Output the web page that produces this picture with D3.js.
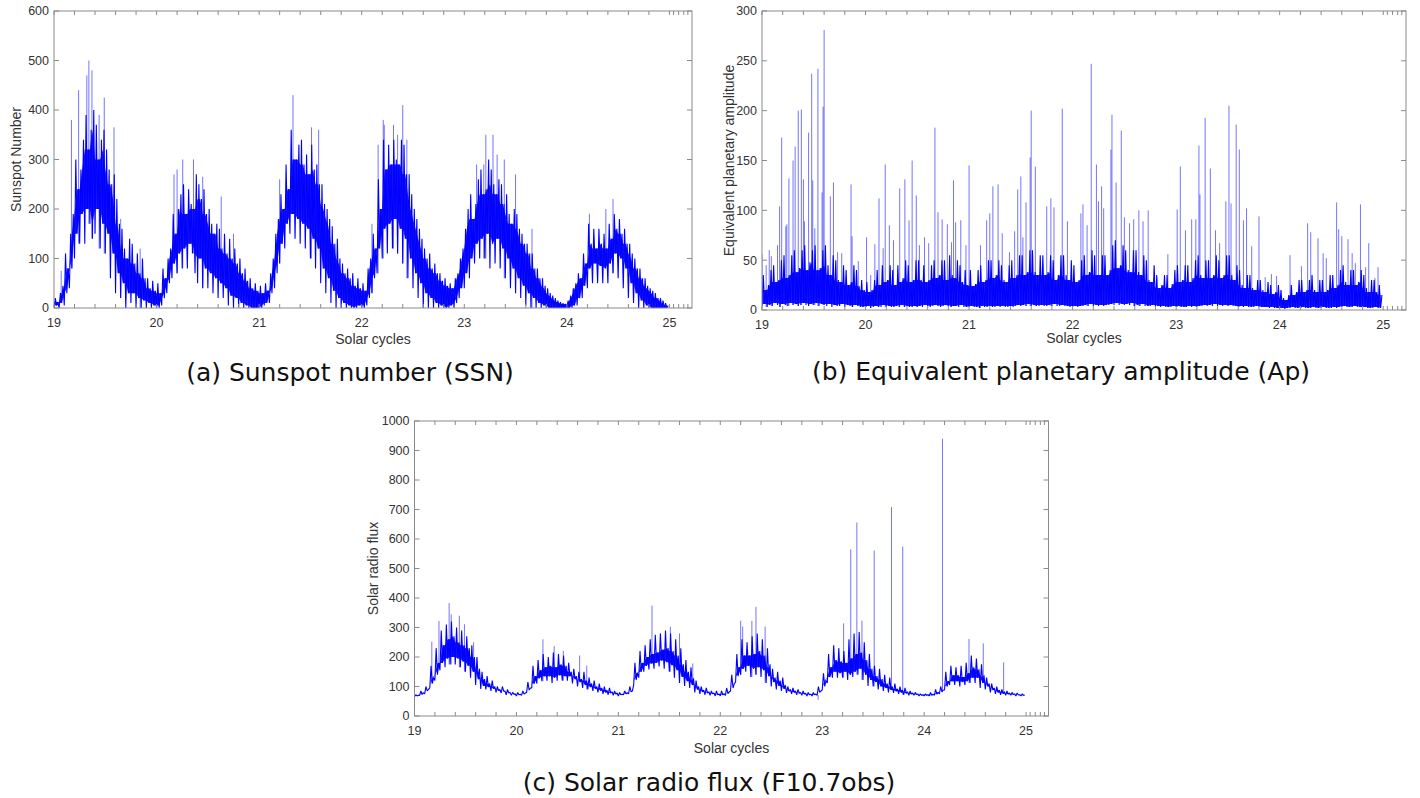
<!DOCTYPE html>
<html>
<head>
<meta charset="utf-8">
<script src="https://cdn.jsdelivr.net/npm/d3@7"></script>
<style>
  html, body { margin: 0; padding: 0; background: #fff; }
  svg { display: block; }
  .tick-label { font-family: "Liberation Sans", Arial, sans-serif; font-size: 12.5px; fill: #333; }
  .axis-title { font-family: "Liberation Sans", Arial, sans-serif; font-size: 14px; fill: #333; }
  .caption { font-family: "DejaVu Sans", sans-serif; font-size: 25px; fill: #111; }
</style>
</head>
<body>
<svg id="chart" width="1420" height="798"></svg>
<script>
// Daily series summarised in 0.025-cycle bins starting at cycle 19.000:
// per bin, the lowest and highest daily value; tall isolated days listed separately.
const binStart = 19;
const binStep = 0.025;

// (a) Sunspot number
const ssnLow = [
  0, 5, 0, 10, 5, 30, 40, 80, 100, 150, 130, 190, 130, 200, 170, 140, 150, 200, 120, 170,
  110, 150, 60, 110, 30, 70, 20, 50, 0, 30, 10, 30, 0, 20, 0, 15, 0, 10, 0, 5,
  0, 0, 5, 20, 30, 50, 60, 90, 70, 110, 80, 120, 80, 130, 110, 70, 50, 100, 40, 80,
  40, 70, 30, 60, 20, 50, 20, 40, 5, 25, 0, 20, 0, 10, 0, 5, 0, 0, 0, 0,
  0, 0, 5, 10, 10, 30, 40, 70, 90, 130, 120, 170, 150, 190, 140, 180, 130, 170, 120, 160,
  100, 140, 80, 120, 50, 80, 30, 60, 10, 35, 0, 20, 0, 10, 0, 5, 0, 0, 0, 5,
  0, 0, 5, 20, 30, 60, 70, 120, 100, 160, 110, 170, 120, 180, 110, 160, 90, 140, 60, 100,
  40, 70, 20, 50, 0, 30, 0, 20, 0, 10, 0, 5, 0, 0, 0, 5, 0, 10, 20, 40,
  40, 70, 60, 100, 90, 130, 100, 140, 100, 150, 80, 130, 90, 140, 80, 120, 60, 100, 40, 80,
  30, 60, 20, 45, 5, 30, 0, 20, 0, 10, 0, 5, 0, 0, 0, 0, 0, 0, 0, 0,
  0, 0, 0, 5, 5, 20, 20, 45, 40, 80, 50, 90, 50, 85, 50, 80, 50, 90, 70, 110,
  60, 100, 40, 80, 20, 50, 10, 30, 0, 15, 0, 5, 0, 0, 0, 0, 0, 0, 0, 0
];
const ssnHigh = [
  20, 12, 30, 45, 110, 80, 150, 190, 300, 240, 280, 340, 390, 320, 360, 400, 370, 300, 340, 360,
  320, 280, 250, 270, 220, 170, 160, 120, 100, 140, 130, 90, 110, 70, 100, 60, 60, 40, 55, 35,
  50, 30, 80, 60, 100, 120, 190, 150, 200, 230, 250, 190, 240, 210, 200, 270, 250, 220, 240, 190,
  200, 170, 150, 170, 160, 120, 150, 110, 140, 100, 120, 90, 100, 70, 80, 55, 60, 40, 50, 35,
  45, 30, 50, 35, 70, 100, 150, 180, 230, 200, 290, 240, 360, 300, 300, 330, 340, 290, 310, 270,
  330, 280, 290, 250, 250, 210, 200, 180, 165, 130, 140, 100, 90, 70, 80, 60, 70, 45, 60, 40,
  50, 35, 80, 100, 150, 120, 260, 200, 340, 280, 330, 290, 340, 300, 290, 340, 330, 270, 270, 230,
  200, 180, 160, 140, 120, 100, 110, 80, 90, 70, 70, 55, 60, 45, 50, 40, 60, 70, 100, 120,
  160, 200, 230, 180, 210, 260, 280, 230, 240, 300, 280, 250, 230, 260, 250, 210, 230, 190, 170, 200,
  190, 160, 150, 130, 130, 110, 110, 80, 80, 60, 60, 45, 40, 30, 25, 20, 15, 12, 10, 8,
  15, 25, 40, 50, 70, 60, 110, 90, 170, 130, 160, 120, 160, 130, 150, 120, 170, 140, 190, 160,
  180, 150, 160, 130, 130, 110, 100, 80, 80, 60, 60, 45, 40, 35, 30, 20, 20, 15, 10, 5
];
const ssnSpikes = [
  [19.07, 75], [19.17, 380], [19.24, 440], [19.32, 470], [19.34, 500], [19.37, 480],
  [19.44, 390], [19.49, 425], [19.585, 365], [19.65, 180], [19.84, 120],
  [20.17, 270], [20.20, 280], [20.255, 300], [20.36, 300], [20.45, 265], [20.63, 225], [20.75, 150],
  [21.20, 260], [21.33, 430], [21.51, 365], [21.58, 360],
  [22.10, 170], [22.16, 330], [22.21, 380], [22.22, 370], [22.31, 370], [22.35, 350],
  [22.40, 410], [22.44, 340],
  [23.12, 290], [23.19, 290], [23.21, 350], [23.28, 350], [23.32, 310], [23.39, 300],
  [23.50, 270], [23.66, 160],
  [24.22, 190], [24.38, 200], [24.45, 220]
];

// (b) Equivalent planetary amplitude
const apLow = [
  4, 6, 3, 5, 4, 7, 5, 3, 6, 5, 4, 7, 5, 6, 4, 5, 7, 5, 4, 6,
  5, 7, 4, 6, 5, 4, 6, 3, 5, 4, 4, 6, 3, 5, 4, 3, 5, 4, 3, 3,
  3, 4, 2, 3, 4, 3, 3, 5, 3, 4, 3, 3, 4, 3, 5, 3, 4, 3, 3, 4,
  3, 4, 3, 5, 4, 3, 4, 5, 4, 3, 4, 5, 4, 3, 4, 4, 3, 5, 3, 3,
  3, 4, 3, 3, 2, 4, 3, 3, 4, 3, 3, 4, 3, 4, 3, 3, 4, 3, 4, 5,
  4, 5, 4, 6, 4, 5, 4, 4, 5, 4, 4, 5, 4, 6, 4, 4, 5, 4, 4, 3,
  3, 4, 3, 4, 4, 5, 4, 6, 4, 5, 4, 5, 4, 5, 5, 6, 5, 7, 5, 6,
  5, 6, 5, 7, 4, 5, 4, 6, 4, 4, 4, 5, 3, 4, 3, 4, 3, 3, 3, 4,
  3, 4, 3, 3, 3, 4, 3, 4, 3, 4, 4, 5, 4, 5, 4, 6, 4, 5, 4, 5,
  4, 5, 4, 4, 3, 4, 3, 4, 3, 3, 3, 4, 3, 3, 3, 3, 2, 3, 2, 2,
  2, 2, 1, 2, 2, 3, 2, 2, 2, 3, 2, 2, 2, 3, 2, 2, 2, 3, 2, 2,
  2, 3, 2, 3, 3, 4, 3, 3, 3, 4, 3, 3, 2, 3, 2, 2, 2, 3, 2, 2
];
const apHigh = [
  35, 20, 25, 40, 45, 28, 30, 50, 55, 32, 35, 55, 60, 38, 42, 60, 65, 40, 48, 60,
  65, 40, 42, 60, 65, 45, 35, 55, 50, 30, 28, 45, 40, 25, 28, 45, 40, 24, 30, 20,
  28, 18, 20, 30, 40, 25, 45, 28, 30, 45, 40, 25, 45, 28, 32, 50, 45, 28, 30, 50,
  50, 30, 45, 28, 30, 45, 50, 32, 35, 50, 50, 30, 55, 35, 32, 50, 45, 28, 40, 25,
  40, 24, 26, 40, 45, 28, 30, 50, 50, 32, 35, 50, 45, 30, 28, 45, 50, 32, 35, 55,
  55, 35, 38, 60, 60, 38, 35, 55, 55, 35, 38, 55, 50, 30, 35, 55, 55, 35, 30, 50,
  45, 28, 30, 50, 55, 35, 38, 60, 55, 35, 35, 55, 55, 35, 40, 65, 70, 42, 45, 65,
  60, 40, 38, 60, 60, 38, 35, 55, 50, 30, 28, 45, 35, 22, 25, 35, 35, 22, 26, 40,
  45, 28, 30, 45, 45, 28, 32, 50, 55, 35, 32, 50, 50, 32, 35, 55, 50, 32, 35, 55,
  55, 35, 30, 45, 40, 25, 22, 35, 35, 22, 20, 30, 30, 20, 18, 28, 25, 16, 18, 25,
  20, 12, 10, 15, 25, 15, 18, 30, 30, 18, 20, 30, 35, 20, 18, 30, 30, 18, 20, 35,
  35, 22, 25, 40, 45, 28, 25, 40, 40, 25, 28, 40, 35, 22, 18, 30, 30, 18, 25, 15
];
const apSpikes = [
  [19.00, 56], [19.04, 45], [19.07, 60], [19.09, 54], [19.15, 65], [19.17, 104], [19.19, 173],
  [19.23, 84], [19.24, 86], [19.26, 132], [19.30, 150], [19.32, 164], [19.35, 200], [19.38, 201],
  [19.40, 131], [19.41, 89], [19.45, 178], [19.48, 237], [19.49, 130], [19.51, 82], [19.54, 242],
  [19.58, 118], [19.59, 204], [19.60, 281], [19.66, 114], [19.69, 128], [19.73, 58], [19.77, 57],
  [19.86, 126], [19.87, 74], [19.93, 49],
  [20.01, 73], [20.05, 35], [20.09, 66], [20.13, 112], [20.17, 62], [20.19, 146], [20.23, 85],
  [20.27, 70], [20.33, 122], [20.38, 131], [20.42, 90], [20.45, 150], [20.49, 115], [20.52, 65],
  [20.57, 73], [20.61, 67], [20.67, 183], [20.70, 98], [20.74, 91], [20.79, 86], [20.83, 68],
  [20.85, 130], [20.87, 88], [20.92, 90], [20.97, 65],
  [21.00, 145], [21.11, 65], [21.17, 90], [21.20, 97], [21.23, 124], [21.28, 126], [21.32, 77],
  [21.39, 58], [21.44, 79], [21.47, 121], [21.50, 134], [21.52, 73], [21.55, 108], [21.59, 153],
  [21.60, 200], [21.64, 144], [21.75, 104], [21.79, 112], [21.82, 103], [21.90, 202], [21.95, 89],
  [22.08, 97], [22.10, 106], [22.14, 85], [22.18, 247], [22.23, 146], [22.25, 109], [22.28, 124],
  [22.30, 102], [22.37, 161], [22.38, 196], [22.42, 128], [22.47, 180], [22.50, 93], [22.55, 87],
  [22.59, 91], [22.64, 100], [22.68, 89], [22.73, 100], [22.92, 56],
  [23.01, 101], [23.04, 144], [23.09, 80], [23.15, 91], [23.19, 91], [23.22, 165], [23.23, 116],
  [23.28, 193], [23.33, 142], [23.38, 80], [23.42, 67], [23.48, 109], [23.51, 205], [23.53, 107],
  [23.58, 186], [23.61, 161], [23.65, 90], [23.68, 102], [23.73, 64], [23.80, 94], [23.86, 33],
  [23.92, 36], [23.97, 34],
  [24.10, 55], [24.21, 44], [24.27, 87], [24.30, 78], [24.37, 72], [24.42, 57], [24.45, 52],
  [24.55, 108], [24.57, 81], [24.60, 74], [24.66, 71], [24.70, 57], [24.73, 47], [24.78, 106],
  [24.83, 43], [24.86, 67], [24.92, 32], [24.95, 43]
];

// (c) Solar radio flux F10.7
const f107Low = [
  65, 68, 70, 73, 75, 85, 95, 110, 120, 140, 155, 180, 165, 195, 175, 200, 175, 195, 165, 185,
  150, 170, 130, 150, 105, 125, 92, 102, 90, 98, 85, 92, 80, 86, 78, 84, 72, 78, 70, 74,
  68, 72, 70, 74, 80, 88, 95, 110, 110, 128, 118, 135, 120, 135, 112, 130, 120, 138, 120, 135,
  120, 135, 110, 125, 100, 115, 95, 105, 90, 98, 85, 92, 80, 86, 75, 80, 72, 78, 70, 74,
  68, 72, 72, 75, 75, 82, 105, 122, 130, 150, 150, 170, 158, 178, 160, 180, 168, 188, 160, 182,
  150, 172, 130, 155, 112, 132, 102, 118, 95, 105, 80, 90, 75, 82, 72, 78, 70, 75, 68, 72,
  68, 72, 70, 76, 85, 95, 115, 135, 140, 160, 150, 170, 132, 160, 140, 165, 132, 155, 112, 135,
  100, 115, 90, 102, 85, 92, 78, 84, 75, 80, 72, 77, 70, 74, 68, 72, 68, 72, 70, 80,
  88, 100, 112, 132, 130, 150, 130, 145, 130, 150, 122, 140, 132, 150, 140, 160, 122, 140, 102, 122,
  100, 115, 90, 100, 85, 95, 80, 88, 78, 84, 75, 80, 72, 77, 70, 74, 70, 73, 68, 70,
  68, 70, 68, 70, 70, 74, 75, 82, 88, 100, 105, 118, 105, 118, 100, 115, 105, 118, 112, 130,
  112, 130, 95, 112, 90, 100, 80, 88, 75, 80, 72, 76, 70, 74, 70, 73, 68, 71, 68, 70
];
const f107High = [
  72, 70, 85, 78, 100, 90, 170, 130, 230, 180, 290, 240, 310, 260, 320, 270, 300, 250, 290, 240,
  270, 230, 240, 200, 200, 160, 150, 125, 135, 110, 120, 100, 100, 90, 100, 85, 90, 80, 80, 75,
  80, 74, 85, 78, 115, 95, 170, 135, 190, 155, 210, 165, 200, 170, 215, 165, 210, 175, 205, 170,
  180, 150, 160, 135, 150, 125, 150, 120, 130, 110, 120, 100, 110, 95, 100, 88, 95, 82, 85, 78,
  80, 74, 85, 78, 100, 85, 180, 145, 220, 180, 240, 200, 260, 210, 275, 215, 280, 225, 290, 230,
  280, 220, 260, 205, 230, 175, 190, 150, 165, 128, 120, 100, 100, 88, 95, 82, 85, 78, 85, 75,
  85, 75, 95, 82, 140, 110, 210, 165, 260, 205, 250, 205, 270, 210, 280, 220, 260, 205, 230, 175,
  160, 130, 150, 120, 130, 105, 100, 90, 95, 85, 90, 80, 85, 77, 80, 74, 80, 74, 100, 85,
  145, 120, 210, 165, 240, 190, 230, 185, 220, 180, 260, 195, 280, 210, 285, 215, 250, 190, 210, 160,
  170, 135, 160, 125, 140, 110, 130, 100, 110, 92, 100, 88, 95, 82, 85, 78, 80, 75, 75, 72,
  75, 72, 80, 74, 90, 80, 100, 88, 150, 118, 170, 138, 165, 138, 170, 132, 180, 145, 205, 165,
  195, 158, 175, 138, 130, 110, 110, 95, 100, 88, 90, 82, 85, 78, 80, 75, 78, 72, 75, 71
];
const f107Spikes = [
  [19.17, 252], [19.24, 322], [19.34, 383], [19.36, 345], [19.44, 340], [19.49, 311], [19.58, 250],
  [20.26, 260], [20.37, 237], [20.46, 221], [20.62, 205], [20.69, 171],
  [21.33, 374], [21.51, 303], [21.60, 280], [21.73, 178],
  [22.20, 323], [22.22, 303], [22.31, 322], [22.35, 370], [22.44, 303], [22.96, 55],
  [23.21, 314], [23.28, 565], [23.34, 656], [23.39, 323], [23.51, 561], [23.68, 708], [23.79, 574],
  [24.18, 940], [24.44, 261], [24.58, 246], [24.78, 182]
];

// Axis ticks
const cycleTicks = [19, 20, 21, 22, 23, 24, 25];
const cycleMinorTicks = [19.2, 19.4, 19.6, 19.8, 20.2, 20.4, 20.6, 20.8, 21.2, 21.4, 21.6, 21.8,
  22.2, 22.4, 22.6, 22.8, 23.2, 23.4, 23.6, 23.8, 24.2, 24.4, 24.6, 24.8,
  25.04, 25.09, 25.14, 25.18];
const ssnTicks = [0, 100, 200, 300, 400, 500, 600];
const apTicks = [0, 50, 100, 150, 200, 250, 300];
const f107Ticks = [0, 100, 200, 300, 400, 500, 600, 700, 800, 900, 1000];

const panels = [
  { id: "ssn", low: ssnLow, high: ssnHigh, spikes: ssnSpikes,
    yMax: 600, yTicks: ssnTicks, box: { left: 54, top: 11, right: 692, bottom: 308 },
    yTitle: "Sunspot Number", yTitleX: 16, xTitleY: 344, caption: "(a) Sunspot number (SSN)",
    captionX: 350, captionY: 381 },
  { id: "ap", low: apLow, high: apHigh, spikes: apSpikes,
    yMax: 300, yTicks: apTicks, box: { left: 762, top: 11, right: 1406, bottom: 310 },
    yTitle: "Equivalent planetary amplitude", yTitleX: 729, xTitleY: 343,
    caption: "(b) Equivalent planetary amplitude (Ap)", captionX: 1061, captionY: 380 },
  { id: "f107", low: f107Low, high: f107High, spikes: f107Spikes,
    yMax: 1000, yTicks: f107Ticks, box: { left: 414.5, top: 421, right: 1048.5, bottom: 716 },
    yTitle: "Solar radio flux", yTitleX: 373, xTitleY: 753,
    caption: "(c) Solar radio flux (F10.7obs)", captionX: 709, captionY: 791 }
];

const svg = d3.select("#chart");
const AXIS_COLOR = "#8a8a8a";
const BLUE = "#0000ff";

panels.forEach(p => {
  const b = p.box;
  const w = b.right - b.left, h = b.bottom - b.top;
  const x = d3.scaleLinear().domain([19, 25.22]).range([0, w]);
  const y = d3.scaleLinear().domain([0, p.yMax]).range([h, 0]);

  const g = svg.append("g").attr("transform", `translate(${b.left},${b.top})`);

  g.append("clipPath").attr("id", `clip-${p.id}`)
    .append("rect").attr("x", 0).attr("y", 0).attr("width", w).attr("height", h);

  const bins = p.low.map((lo, i) => ({ c: binStart + i * binStep, lo, hi: p.high[i] }));

  const plot = g.append("g").attr("clip-path", `url(#clip-${p.id})`);

  // isolated tall days, drawn underneath the main trace
  plot.selectAll("line.spike")
    .data(p.spikes)
    .join("line")
    .attr("class", "spike")
    .attr("x1", d => x(d[0]))
    .attr("x2", d => x(d[0]))
    .attr("y1", d => {
      const i = Math.max(0, Math.min(bins.length - 1, Math.round((d[0] - binStart) / binStep)));
      return y(bins[i].lo);
    })
    .attr("y2", d => y(d[1]))
    .attr("stroke", BLUE)
    .attr("stroke-width", 1)
    .attr("stroke-opacity", 0.55);

  // where neighbouring swings overlap the trace is effectively solid
  const overlap = bins.map((d, i) => {
    const nb = bins.slice(Math.max(0, i - 1), Math.min(bins.length, i + 2));
    const top = d3.min(nb, e => e.hi);
    const bottom = d3.max(nb, e => e.lo);
    return { c: d.c, bottom, top: Math.max(top, bottom) };
  });
  plot.append("path")
    .datum(overlap)
    .attr("d", d3.area().x(d => x(d.c)).y0(d => y(d.bottom)).y1(d => y(d.top)))
    .attr("fill", BLUE)
    .attr("fill-opacity", 0.9);

  // the series swings between each bin's low and high day
  const trace = [];
  bins.forEach(d => {
    trace.push([d.c, d.lo]);
    trace.push([d.c + binStep / 2, d.hi]);
  });
  plot.append("path")
    .datum(trace)
    .attr("d", d3.line().x(d => x(d[0])).y(d => y(d[1])))
    .attr("fill", "none")
    .attr("stroke", BLUE)
    .attr("stroke-width", 1.1)
    .attr("stroke-linejoin", "bevel");

  // frame
  g.append("rect").attr("x", 0).attr("y", 0).attr("width", w).attr("height", h)
    .attr("fill", "none").attr("stroke", AXIS_COLOR).attr("stroke-width", 1);

  // x ticks (inward, top and bottom)
  const allX = cycleTicks.concat(cycleMinorTicks);
  g.selectAll("line.xb").data(allX).join("line")
    .attr("class", "xb")
    .attr("x1", d => x(d)).attr("x2", d => x(d))
    .attr("y1", h).attr("y2", h - 4)
    .attr("stroke", AXIS_COLOR);
  g.selectAll("line.xtop").data(allX).join("line")
    .attr("class", "xtop")
    .attr("x1", d => x(d)).attr("x2", d => x(d))
    .attr("y1", 0).attr("y2", 4)
    .attr("stroke", AXIS_COLOR);
  g.selectAll("text.xl").data(cycleTicks).join("text")
    .attr("class", "tick-label xl")
    .attr("x", d => x(d)).attr("y", h + 19)
    .attr("text-anchor", "middle")
    .text(d => d);

  // y ticks (inward, left and right)
  g.selectAll("line.yl").data(p.yTicks).join("line")
    .attr("class", "yl")
    .attr("x1", 0).attr("x2", 5)
    .attr("y1", d => y(d)).attr("y2", d => y(d))
    .attr("stroke", AXIS_COLOR);
  g.selectAll("line.yr").data(p.yTicks).join("line")
    .attr("class", "yr")
    .attr("x1", w).attr("x2", w - 5)
    .attr("y1", d => y(d)).attr("y2", d => y(d))
    .attr("stroke", AXIS_COLOR);
  g.selectAll("text.yt").data(p.yTicks).join("text")
    .attr("class", "tick-label yt")
    .attr("x", -5).attr("y", d => y(d))
    .attr("dy", "0.35em")
    .attr("text-anchor", "end")
    .text(d => d);

  // titles
  svg.append("text").attr("class", "axis-title")
    .attr("transform", `translate(${p.yTitleX},${(b.top + b.bottom) / 2}) rotate(-90)`)
    .attr("text-anchor", "middle").attr("dy", "0.35em")
    .text(p.yTitle);
  svg.append("text").attr("class", "axis-title")
    .attr("x", (b.left + b.right) / 2).attr("y", p.xTitleY)
    .attr("text-anchor", "middle")
    .text("Solar cycles");
  svg.append("text").attr("class", "caption")
    .attr("x", p.captionX).attr("y", p.captionY)
    .attr("text-anchor", "middle")
    .text(p.caption);
});
</script>
</body>
</html>
